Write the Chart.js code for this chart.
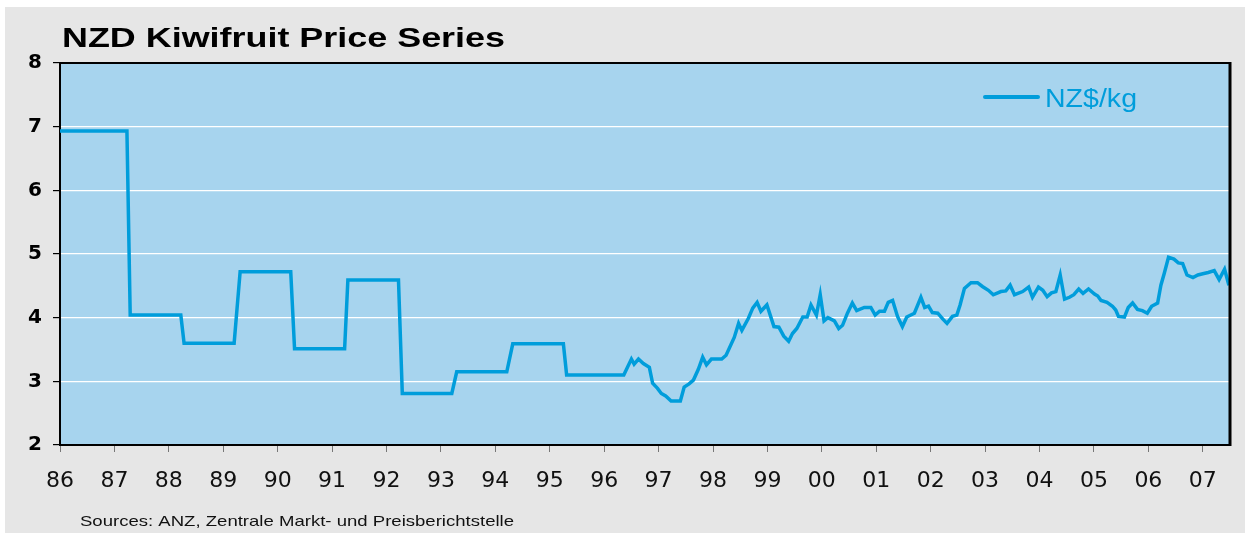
<!DOCTYPE html>
<html>
<head>
<meta charset="utf-8">
<title>NZD Kiwifruit Price Series</title>
<script src="https://cdn.jsdelivr.net/npm/chart.js@4.4.1/dist/chart.umd.min.js"></script>
<style>
  html, body { margin: 0; padding: 0; background: #fff; }
  #wrap { width: 1245px; height: 533px; position: relative; }
</style>
</head>
<body>
<div id="wrap"><canvas id="kiwi"></canvas></div>
<script>
// price readings, decimal year -> NZ$/kg
const dates = [
  1986.00, 1987.23, 1987.29, 1988.22, 1988.28, 1989.20, 1989.31, 1990.24, 1990.31, 1991.23,
  1991.29, 1992.22, 1992.29, 1993.20, 1993.29, 1994.21, 1994.32, 1995.25, 1995.31, 1996.36,
  1996.50, 1996.55, 1996.63, 1996.72, 1996.83, 1996.89, 1996.98, 1997.05, 1997.13, 1997.23,
  1997.40, 1997.47, 1997.56, 1997.64, 1997.73, 1997.81, 1997.88, 1997.97, 1998.16, 1998.24,
  1998.39, 1998.47, 1998.53, 1998.65, 1998.73, 1998.81, 1998.88, 1998.99, 1999.12, 1999.21,
  1999.30, 1999.39, 1999.46, 1999.54, 1999.65, 1999.73, 1999.80, 1999.90, 1999.97, 2000.04,
  2000.11, 2000.23, 2000.31, 2000.38, 2000.47, 2000.56, 2000.64, 2000.78, 2000.90, 2000.98,
  2001.06, 2001.15, 2001.22, 2001.30, 2001.39, 2001.48, 2001.56, 2001.70, 2001.82, 2001.89,
  2001.96, 2002.03, 2002.13, 2002.22, 2002.30, 2002.40, 2002.48, 2002.54, 2002.62, 2002.74,
  2002.86, 2002.95, 2003.06, 2003.15, 2003.29, 2003.38, 2003.46, 2003.54, 2003.69, 2003.80,
  2003.87, 2003.98, 2004.06, 2004.14, 2004.22, 2004.30, 2004.38, 2004.46, 2004.55, 2004.63,
  2004.72, 2004.80, 2004.90, 2005.01, 2005.07, 2005.13, 2005.24, 2005.34, 2005.40, 2005.45,
  2005.56, 2005.63, 2005.71, 2005.80, 2005.89, 2005.98, 2006.06, 2006.17, 2006.23, 2006.29,
  2006.37, 2006.47, 2006.55, 2006.63, 2006.71, 2006.82, 2006.91, 2007.00, 2007.10, 2007.21,
  2007.30, 2007.40, 2007.48
];
const prices = [
  6.93, 6.93, 4.04, 4.04, 3.60, 3.60, 4.72, 4.72, 3.51, 3.51,
  4.59, 4.59, 2.81, 2.81, 3.15, 3.15, 3.59, 3.59, 3.10, 3.10,
  3.35, 3.27, 3.35, 3.28, 3.22, 2.97, 2.89, 2.81, 2.77, 2.69,
  2.69, 2.91, 2.96, 3.02, 3.19, 3.38, 3.26, 3.35, 3.35, 3.41,
  3.69, 3.91, 3.80, 3.99, 4.15, 4.24, 4.10, 4.20, 3.86, 3.85,
  3.71, 3.63, 3.75, 3.83, 4.01, 4.01, 4.20, 4.04, 4.36, 3.95,
  4.00, 3.95, 3.83, 3.88, 4.07, 4.23, 4.11, 4.16, 4.16, 4.04,
  4.10, 4.10, 4.24, 4.27, 4.02, 3.86, 4.01, 4.07, 4.32, 4.16,
  4.18, 4.08, 4.07, 3.98, 3.91, 4.02, 4.04, 4.20, 4.46, 4.55,
  4.55, 4.49, 4.43, 4.36, 4.41, 4.42, 4.51, 4.36, 4.41, 4.48,
  4.32, 4.48, 4.43, 4.33, 4.39, 4.41, 4.67, 4.29, 4.32, 4.36,
  4.45, 4.38, 4.45, 4.37, 4.34, 4.27, 4.24, 4.18, 4.12, 4.02,
  4.01, 4.16, 4.23, 4.13, 4.11, 4.07, 4.18, 4.23, 4.51, 4.69,
  4.95, 4.92, 4.86, 4.85, 4.67, 4.63, 4.67, 4.69, 4.71, 4.74,
  4.60, 4.76, 4.51
];
const years = [1986, 1987, 1988, 1989, 1990, 1991, 1992, 1993, 1994, 1995, 1996,
               1997, 1998, 1999, 2000, 2001, 2002, 2003, 2004, 2005, 2006, 2007];
const yTicks = [2, 3, 4, 5, 6, 7, 8];

const seriesName = 'NZ$/kg';
const titleText = 'NZD Kiwifruit Price Series';
const sourceText = 'Sources: ANZ, Zentrale Markt- und Preisberichtstelle';

const lineBlue = 'rgb(0,157,219)';
const plotBlue = '#a7d4ee';
const panelGrey = '#e6e6e6';

// draw text squeezed/stretched to a given width (the original uses wide lettering)
function wideText(ctx, txt, x, y, w) {
  const m = ctx.measureText(txt).width;
  ctx.save();
  ctx.translate(x, y);
  ctx.scale(w / m, 1);
  ctx.fillText(txt, 0, 0);
  ctx.restore();
}

const decor = {
  id: 'decor',
  beforeDraw(chart) {
    const ctx = chart.ctx;
    const a = chart.chartArea;
    ctx.save();
    ctx.fillStyle = panelGrey;
    ctx.fillRect(5, 7, chart.width - 5, chart.height - 7);
    ctx.fillStyle = plotBlue;
    ctx.fillRect(a.left, a.top, a.right - a.left, a.bottom - a.top);
    ctx.restore();
  },
  afterDatasetsDraw(chart) {
    const ctx = chart.ctx;
    const a = chart.chartArea;
    ctx.save();
    ctx.strokeStyle = '#000';
    ctx.lineWidth = 2;
    ctx.beginPath();
    ctx.moveTo(a.left, a.top);
    ctx.lineTo(a.right, a.top);
    ctx.stroke();
    ctx.lineWidth = 3;
    ctx.beginPath();
    ctx.moveTo(a.right, a.top - 1);
    ctx.lineTo(a.right, a.bottom + 1);
    ctx.stroke();
    ctx.restore();
  },
  afterDraw(chart) {
    const ctx = chart.ctx;
    const ds = chart.data.datasets[0];
    ctx.save();
    // title
    ctx.fillStyle = '#000';
    ctx.textBaseline = 'alphabetic';
    ctx.font = 'bold 27px "Liberation Sans", Arial, sans-serif';
    wideText(ctx, titleText, 62, 47, 443);
    // legend
    ctx.strokeStyle = ds.borderColor;
    ctx.lineWidth = 4;
    ctx.lineCap = 'round';
    ctx.beginPath();
    ctx.moveTo(985, 97);
    ctx.lineTo(1038, 97);
    ctx.stroke();
    ctx.fillStyle = ds.borderColor;
    ctx.font = '26px "Liberation Sans", Arial, sans-serif';
    wideText(ctx, ds.label, 1045, 107, 92);
    // source note
    ctx.fillStyle = '#111';
    ctx.font = '15px "Liberation Sans", Arial, sans-serif';
    wideText(ctx, sourceText, 80, 526, 434);
    ctx.restore();
  }
};

new Chart(document.getElementById('kiwi'), {
  type: 'line',
  data: {
    datasets: [{
      label: seriesName,
      data: dates.map((d, i) => ({ x: d, y: prices[i] })),
      borderColor: lineBlue,
      borderWidth: 3.5,
      pointRadius: 0,
      tension: 0,
      fill: false
    }]
  },
  options: {
    responsive: true,
    maintainAspectRatio: false,
    animation: false,
    layout: { padding: { top: 63, right: 15, left: 0, bottom: 0 } },
    plugins: {
      legend: { display: false },
      title: { display: false },
      tooltip: { enabled: false }
    },
    scales: {
      x: {
        type: 'linear',
        min: 1986,
        max: 2007.5,
        afterFit: s => { s.height = 88; },
        afterBuildTicks: s => { s.ticks = years.map(v => ({ value: v })); },
        grid: { drawOnChartArea: false, tickLength: 7, tickColor: '#777', lineWidth: 1 },
        border: { display: true, color: '#000', width: 2 },
        ticks: {
          autoSkip: false,
          maxRotation: 0,
          padding: 16,
          color: '#111',
          font: { family: '"DejaVu Sans", sans-serif', size: 22 },
          callback: v => String(v).slice(2)
        }
      },
      y: {
        min: 2,
        max: 8,
        afterFit: s => { s.width = 60; },
        afterBuildTicks: s => { s.ticks = yTicks.map(v => ({ value: v })); },
        grid: { color: '#fff', lineWidth: 1.2, tickLength: 7, tickColor: '#000' },
        border: { display: true, color: '#000', width: 2 },
        ticks: {
          padding: 11,
          color: '#000',
          font: { family: '"DejaVu Sans", sans-serif', size: 20, weight: 'bold' }
        }
      }
    }
  },
  plugins: [decor]
});
</script>
</body>
</html>
